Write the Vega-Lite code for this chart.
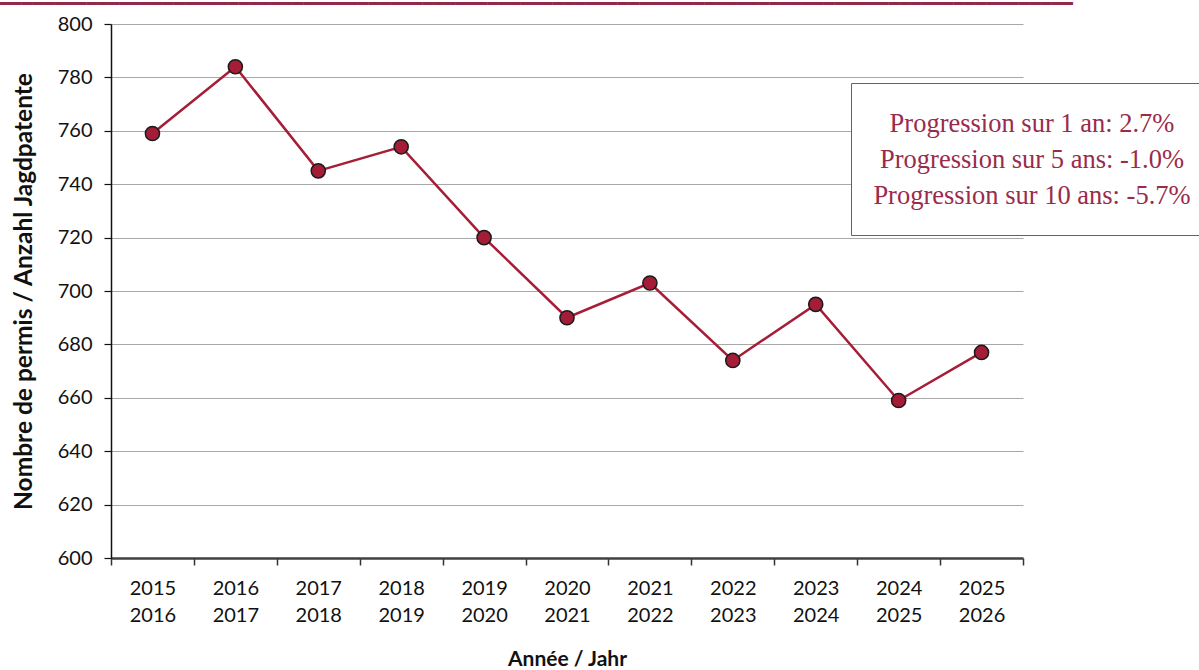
{
  "$schema": "https://vega.github.io/schema/vega-lite/v6.json",
  "width": 912,
  "height": 534,
  "autosize": {"type": "none"},
  "padding": {"left": 111, "top": 24, "right": 176, "bottom": 112},
  "background": "white",
  "config": {"view": {"stroke": null}},
  "title": {
    "text": "━━━━━━━━━━━━━━━━━━━━━━━━━━━━━━━━━━━━━━━━━━━━━━━━━━━━━━━━━━━━━━━━━━━━━━━━━━━━━━━━━━━━━━━━━━━━━━━━━━━",
    "anchor": "start",
    "frame": "group",
    "dx": -111,
    "offset": -14,
    "baseline": "alphabetic",
    "font": "DejaVu Sans Mono",
    "fontSize": 18,
    "fontWeight": "normal",
    "color": "#942848"
  },
  "datasets": {
    "permis": [
      {"periode": "2015 2016", "permis": 759},
      {"periode": "2016 2017", "permis": 784},
      {"periode": "2017 2018", "permis": 745},
      {"periode": "2018 2019", "permis": 754},
      {"periode": "2019 2020", "permis": 720},
      {"periode": "2020 2021", "permis": 690},
      {"periode": "2021 2022", "permis": 703},
      {"periode": "2022 2023", "permis": 674},
      {"periode": "2023 2024", "permis": 695},
      {"periode": "2024 2025", "permis": 659},
      {"periode": "2025 2026", "permis": 677}
    ],
    "notes": [
      {"texte": "Progression sur 1 an: 2.7%", "periode": "2025 2026", "permis": 677},
      {"texte": "Progression sur 5 ans: -1.0%", "periode": "2025 2026", "permis": 677},
      {"texte": "Progression sur 10 ans: -5.7%", "periode": "2025 2026", "permis": 677}
    ]
  },
  "encoding": {
    "x": {
      "field": "periode",
      "type": "nominal",
      "sort": null,
      "scale": {"paddingInner": 0, "paddingOuter": 0},
      "axis": {
        "title": "Année / Jahr",
        "labelExpr": "isValid(datum.value) ? split(datum.value, ' ') : ''",
        "labelAngle": 0,
        "labelFont": "Lato",
        "labelFontSize": 20,
        "labelColor": "#111111",
        "labelLineHeight": 27,
        "labelPadding": 13,
        "tickBand": "extent",
        "tickSize": 7,
        "tickColor": "#333333",
        "tickWidth": 1.5,
        "domainColor": "#404040",
        "domainWidth": 2.5,
        "grid": false,
        "titleFont": "Lato",
        "titleFontSize": 21,
        "titleFontWeight": "bold",
        "titleColor": "#111111",
        "titlePadding": 23
      }
    },
    "y": {
      "field": "permis",
      "type": "quantitative",
      "scale": {"domain": [600, 800], "nice": false, "zero": false},
      "axis": {
        "title": "Nombre de permis / Anzahl Jagdpatente",
        "values": [600, 620, 640, 660, 680, 700, 720, 740, 760, 780, 800],
        "labelFont": "Lato",
        "labelFontSize": 20,
        "labelColor": "#111111",
        "labelPadding": 12,
        "tickSize": 7,
        "tickColor": "#111111",
        "tickWidth": 1.2,
        "domainColor": "#111111",
        "domainWidth": 1.5,
        "grid": true,
        "gridColor": "#a8a8a8",
        "gridWidth": 1.2,
        "titleFont": "Lato",
        "titleFontSize": 24.5,
        "titleFontWeight": "bold",
        "titleColor": "#111111",
        "titlePadding": 21
      }
    }
  },
  "layer": [
    {
      "data": {"name": "permis"},
      "mark": {"type": "line", "color": "#a51d36", "strokeWidth": 2.5}
    },
    {
      "data": {"name": "permis"},
      "mark": {"type": "point", "filled": true, "fill": "#a51c37", "stroke": "#1a1a1a", "strokeWidth": 1.5, "size": 200, "opacity": 1}
    },
    {
      "data": {"name": "notes"},
      "mark": {"type": "point", "opacity": 0},
      "encoding": {
        "shape": {
          "field": "texte",
          "type": "nominal",
          "sort": null,
          "legend": {
            "orient": "none",
            "legendX": 740,
            "legendY": 59,
            "title": null,
            "labelFont": "Liberation Serif",
            "labelFontSize": 26.5,
            "labelColor": "#9a2b4b",
            "labelLimit": 0,
            "labelAlign": "center",
            "labelOffset": 122,
            "strokeColor": "#a8405e",
            "fillColor": "white",
            "padding": 23,
            "rowPadding": 0,
            "symbolSize": 1296,
            "symbolOpacity": 0,
            "symbolStrokeWidth": 0
          }
        }
      }
    }
  ]
}
